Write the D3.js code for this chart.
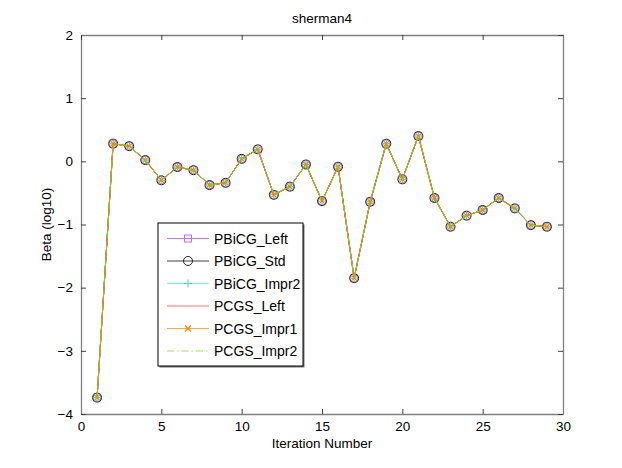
<!DOCTYPE html>
<html>
<head>
<meta charset="utf-8">
<script src="https://cdn.jsdelivr.net/npm/d3@7"></script>
<style>
  body { margin: 0; background: #fff; }
  text { font-family: "Liberation Sans", Arial, sans-serif; }
</style>
</head>
<body>
<div id="graph"></div>
<script>
/* chart values */
const iterations = d3.range(1, 30)
const betaValues = [-3.74, 0.28, 0.24, 0.02, -0.30, -0.09, -0.14, -0.375, -0.34, 0.04,
    0.19, -0.53, -0.40, -0.05, -0.63, -0.085, -1.85, -0.64, 0.28, -0.285,
    0.40, -0.58, -1.035, -0.86, -0.77, -0.58, -0.745, -1.01, -1.035]
const seriesNames = ["PBiCG_Left", "PBiCG_Std", "PBiCG_Impr2", "PCGS_Left", "PCGS_Impr1", "PCGS_Impr2"]
const xTicks = [0, 5, 10, 15, 20, 25, 30]
const yTicks = [-4, -3, -2, -1, 0, 1, 2]

/* look of each series */
const styles = {
    "PBiCG_Left": { color: "#bf40ff", marker: "square", markerColor: "#c070ff" },
    "PBiCG_Std": { color: "#000000", marker: "circle", markerColor: "#222" },
    "PBiCG_Impr2": { color: "#40ffd0", marker: "plus", markerColor: "#30e0c0" },
    "PCGS_Left": { color: "#ff4040", marker: null },
    "PCGS_Impr1": { color: "#ff8c1a", marker: "cross", markerColor: "#ff8000" },
    "PCGS_Impr2": { color: "#70e010", marker: null, dash: "7,3,1.5,3" },
}

const W = 622, H = 468
const L = 81, R = 563, T = 35, B = 414

const svg = d3.select("#graph").append("svg").attr("width", W).attr("height", H)

const x = d3.scaleLinear().domain([0, 30]).range([L, R])
const y = d3.scaleLinear().domain([-4, 2]).range([B, T])

/* axes with inward ticks */
svg.append("g")
    .attr("transform", "translate(0," + B + ")")
    .call(d3.axisBottom(x).tickValues(xTicks).tickSizeInner(-5).tickSizeOuter(0).tickPadding(7))
svg.append("g")
    .attr("transform", "translate(" + L + ",0)")
    .call(d3.axisLeft(y).tickValues(yTicks).tickSizeInner(-5).tickSizeOuter(0).tickPadding(8)
        .tickFormat(d => d < 0 ? "\u2212" + Math.abs(d) : d))
svg.append("g")
    .attr("transform", "translate(0," + T + ")")
    .call(d3.axisTop(x).tickValues(xTicks).tickSizeInner(-5).tickSizeOuter(0).tickFormat(""))
svg.append("g")
    .attr("transform", "translate(" + R + ",0)")
    .call(d3.axisRight(y).tickValues(yTicks).tickSizeInner(-5).tickSizeOuter(0).tickFormat(""))

svg.selectAll(".domain").attr("stroke", "#808080").attr("stroke-width", 1.3)
svg.selectAll(".tick line").attr("stroke", "#404040")
svg.selectAll(".tick text").attr("font-size", 13.5).attr("fill", "#000")
    .style("font-family", "'Liberation Sans', Arial, sans-serif")

/* labels */
svg.append("text").attr("x", (L + R) / 2).attr("y", 23).attr("text-anchor", "middle")
    .attr("font-size", 13.5).text("sherman4")
svg.append("text").attr("x", (L + R) / 2).attr("y", 448).attr("text-anchor", "middle")
    .attr("font-size", 13.5).text("Iteration Number")
svg.append("text").attr("transform", "translate(51," + (T + B) / 2 + ") rotate(-90)")
    .attr("text-anchor", "middle").attr("font-size", 13.5).text("Beta (log10)")

function drawMarker(g, type, color, cx, cy) {
    if (type == "square") {
        g.append("rect").attr("x", cx - 3.5).attr("y", cy - 3.5).attr("width", 7).attr("height", 7)
            .attr("fill", "none").attr("stroke", color).attr("stroke-width", 1)
    } else if (type == "circle") {
        g.append("circle").attr("cx", cx).attr("cy", cy).attr("r", 4.5)
            .attr("fill", "none").attr("stroke", color).attr("stroke-width", 1)
    } else if (type == "plus") {
        g.append("path").attr("d", `M${cx - 4},${cy}H${cx + 4}M${cx},${cy - 4}V${cy + 4}`)
            .attr("stroke", color).attr("stroke-width", 1)
    } else if (type == "cross") {
        g.append("path").attr("d", `M${cx - 3},${cy - 3}L${cx + 3},${cy + 3}M${cx - 3},${cy + 3}L${cx + 3},${cy - 3}`)
            .attr("stroke", color).attr("stroke-width", 1.2)
    }
}

/* series */
const line = d3.line().x((d, i) => x(iterations[i])).y(d => y(d))
const plot = svg.append("g")
seriesNames.forEach(name => {
    const s = styles[name]
    const g = plot.append("g")
    g.append("path").datum(betaValues).attr("d", line)
        .attr("fill", "none").attr("stroke", s.color).attr("stroke-width", 1)
        .attr("stroke-dasharray", s.dash || null)
    if (s.marker) {
        betaValues.forEach((v, i) => drawMarker(g, s.marker, s.markerColor, x(iterations[i]), y(v)))
    }
})

/* legend */
const lx = 158, ly = 223, lw = 145, lh = 143
const legend = svg.append("g")
legend.append("rect").attr("x", lx + 1.5).attr("y", ly + 1.5).attr("width", lw).attr("height", lh)
    .attr("fill", "#777")
legend.append("rect").attr("x", lx).attr("y", ly).attr("width", lw).attr("height", lh)
    .attr("fill", "#fff").attr("stroke", "#000").attr("stroke-width", 1)
seriesNames.forEach((name, i) => {
    const s = styles[name]
    const yy = ly + 15.5 + i * 22.5
    const g = legend.append("g")
    g.append("line").attr("x1", 167).attr("x2", 209).attr("y1", yy).attr("y2", yy)
        .attr("stroke", s.color).attr("stroke-width", 1).attr("opacity", 0.75)
        .attr("stroke-dasharray", s.dash || null)
    if (s.marker) drawMarker(g, s.marker, s.markerColor, 188, yy)
    g.append("text").attr("x", 214).attr("y", yy + 5).attr("font-size", 14).text(name)
})
</script>
</body>
</html>
